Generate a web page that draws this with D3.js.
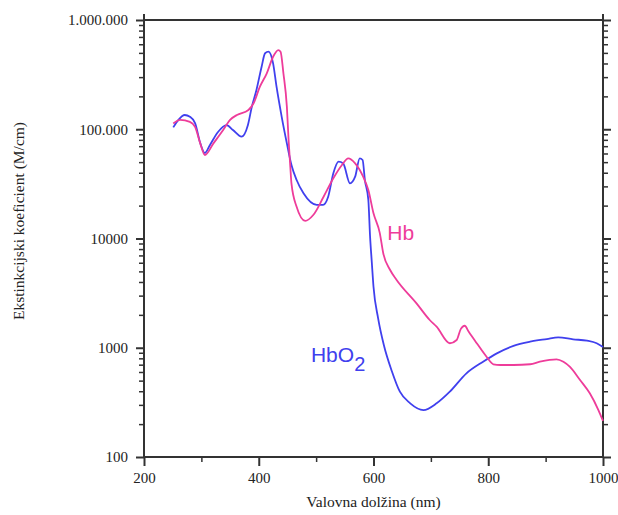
<!DOCTYPE html>
<html>
<head>
<meta charset="utf-8">
<script src="https://cdn.jsdelivr.net/npm/d3@7"></script>
<style>
  body { margin: 0; background: #fff; }
  .tick text { font-family: "Liberation Serif", "Times New Roman", serif; font-size: 15px; fill: #222; }
</style>
</head>
<body>
<svg id="chart" width="618" height="515"></svg>
<script>
// wavelength (nm) and molar extinction (M/cm)
const hbo2Wl = [251, 260, 271, 280, 289, 298, 306, 315, 329, 344, 355, 370, 381, 388, 396, 405, 411, 417, 425, 431,
    440, 449, 457, 466, 478, 501, 512, 521, 530, 539, 547, 559, 568, 576, 581, 585, 591, 594, 597, 600,
    608, 618, 632, 646, 664, 687, 710, 733, 762, 791, 815, 844, 873, 902, 922, 948, 972, 989, 1000];
const hbo2Val = [104000, 122000, 135000, 130000, 114000, 74800, 60600, 71800, 94400, 109000, 98400, 85500, 109000, 161000, 229000, 374000, 496000, 513000, 401000, 245000,
    130000, 74300, 47100, 34300, 25900, 20300, 20300, 24100, 39500, 50500, 48800, 32000, 36800, 54200, 52300, 34300, 22500, 10500, 6090, 3620,
    1870, 1060, 610, 396, 310, 269, 310, 396, 583, 745, 889, 1040, 1136, 1202, 1246, 1195, 1161, 1099, 1016];

const hbWl = [251, 263, 280, 289, 298, 306, 321, 338, 350, 362, 382, 391, 402, 414, 425, 434, 438, 443, 449, 452,
    455, 457, 466, 481, 495, 513, 530, 545, 556, 568, 582, 591, 600, 611, 617, 629, 640, 675, 698, 710,
    733, 745, 752, 759, 766, 780, 797, 809, 821, 844, 873, 890, 919, 931, 942, 960, 977, 992, 1000];
const hbVal = [113000, 122000, 117000, 105000, 74300, 58100, 74300, 98400, 122000, 135000, 150000, 173000, 245000, 325000, 461000, 531000, 513000, 325000, 161000, 79800,
    45400, 32000, 19500, 14500, 16400, 24100, 35600, 47100, 54200, 48800, 36800, 27800, 17000, 11200, 7320, 5150, 4200, 2550, 1795, 1560,
    1100, 1178, 1480, 1590, 1400, 1100, 828, 706, 695, 695, 706, 745, 784, 745, 671, 507, 383, 269, 214];

const yMajor = [100, 1000, 10000, 100000, 1000000];
const yMajorLabels = ["100", "1000", "10000", "100.000", "1.000.000"];
const xMajor = [200, 400, 600, 800, 1000];
const xMinor = [300, 500, 700, 900];

const svg = d3.select("#chart");
const margin = {top: 20, right: 15, bottom: 58, left: 144};
const width = +svg.attr("width") - margin.left - margin.right;
const height = +svg.attr("height") - margin.top - margin.bottom;

const x = d3.scaleLinear().domain([200, 1000]).range([0, width]);
const y = d3.scaleLog().domain([100, 1000000]).range([height, 0]);

const g = svg.append("g").attr("transform", `translate(${margin.left},${margin.top})`);

// minor log ticks 2..9 per decade
const yMinor = [];
yMajor.slice(0, -1).forEach(d => { for (let k = 2; k < 10; k++) yMinor.push(d * k); });

const axisColor = "#333";

function styleAxis(sel, w) {
    sel.select(".domain").remove();
    sel.selectAll(".tick line").attr("stroke", axisColor).attr("stroke-width", w);
}

// left axis
g.append("g")
    .call(d3.axisLeft(y).tickValues(yMinor).tickSize(5).tickFormat(""))
    .call(styleAxis, 1.5);
g.append("g")
    .call(d3.axisLeft(y).tickValues(yMajor).tickSize(8).tickPadding(8)
        .tickFormat((d, i) => yMajorLabels[i]))
    .call(styleAxis, 2);

// right axis
g.append("g").attr("transform", `translate(${width},0)`)
    .call(d3.axisRight(y).tickValues(yMinor).tickSize(5).tickFormat(""))
    .call(styleAxis, 1.5);
g.append("g").attr("transform", `translate(${width},0)`)
    .call(d3.axisRight(y).tickValues(yMajor).tickSize(8).tickFormat(""))
    .call(styleAxis, 2);

// bottom axis
g.append("g").attr("transform", `translate(0,${height})`)
    .call(d3.axisBottom(x).tickValues(xMinor).tickSize(5).tickFormat(""))
    .call(styleAxis, 1.5);
g.append("g").attr("transform", `translate(0,${height})`)
    .call(d3.axisBottom(x).tickValues(xMajor).tickSize(9).tickPadding(6).tickFormat(d3.format("d")))
    .call(styleAxis, 2);

// frame lines
const frame = g.append("g").attr("stroke", axisColor).attr("stroke-width", 2);
frame.append("line").attr("x1", 0).attr("x2", 0).attr("y1", -6).attr("y2", height);
frame.append("line").attr("x1", width).attr("x2", width).attr("y1", -6).attr("y2", height);
frame.append("line").attr("x1", 0).attr("x2", width).attr("y1", 0).attr("y2", 0);
frame.append("line").attr("x1", 0).attr("x2", width).attr("y1", height).attr("y2", height);

// curves
const line = d3.line()
    .x(d => x(d[0]))
    .y(d => y(d[1]))
    .curve(d3.curveMonotoneX);

const hbo2 = d3.zip(hbo2Wl, hbo2Val);
const hb = d3.zip(hbWl, hbVal);

g.append("path").datum(hbo2)
    .attr("d", line)
    .attr("fill", "none")
    .attr("stroke", "#4040ee")
    .attr("stroke-width", 1.8);

g.append("path").datum(hb)
    .attr("d", line)
    .attr("fill", "none")
    .attr("stroke", "#ee3c9a")
    .attr("stroke-width", 1.8);

// series labels
g.append("text")
    .attr("x", x(624)).attr("y", y(9700))
    .attr("font-family", "Liberation Sans, Arial, sans-serif")
    .attr("font-size", 21)
    .attr("fill", "#ee3c9a")
    .text("Hb");

const hbo2Label = g.append("text")
    .attr("x", x(491)).attr("y", y(740))
    .attr("font-family", "Liberation Sans, Arial, sans-serif")
    .attr("font-size", 21)
    .attr("fill", "#4040ee");
hbo2Label.append("tspan").text("HbO");
hbo2Label.append("tspan").attr("dy", 9).attr("font-size", 20).text("2");

// axis titles
svg.append("text")
    .attr("x", margin.left + width / 2)
    .attr("y", 507)
    .attr("text-anchor", "middle")
    .attr("font-family", "Liberation Serif, Times New Roman, serif")
    .attr("font-size", 15.5)
    .attr("fill", "#222")
    .text("Valovna dolžina (nm)");

svg.append("text")
    .attr("transform", "translate(24,221) rotate(-90)")
    .attr("text-anchor", "middle")
    .attr("font-family", "Liberation Serif, Times New Roman, serif")
    .attr("font-size", 15.5)
    .attr("fill", "#222")
    .text("Ekstinkcijski koeficient (M/cm)");
</script>
</body>
</html>
